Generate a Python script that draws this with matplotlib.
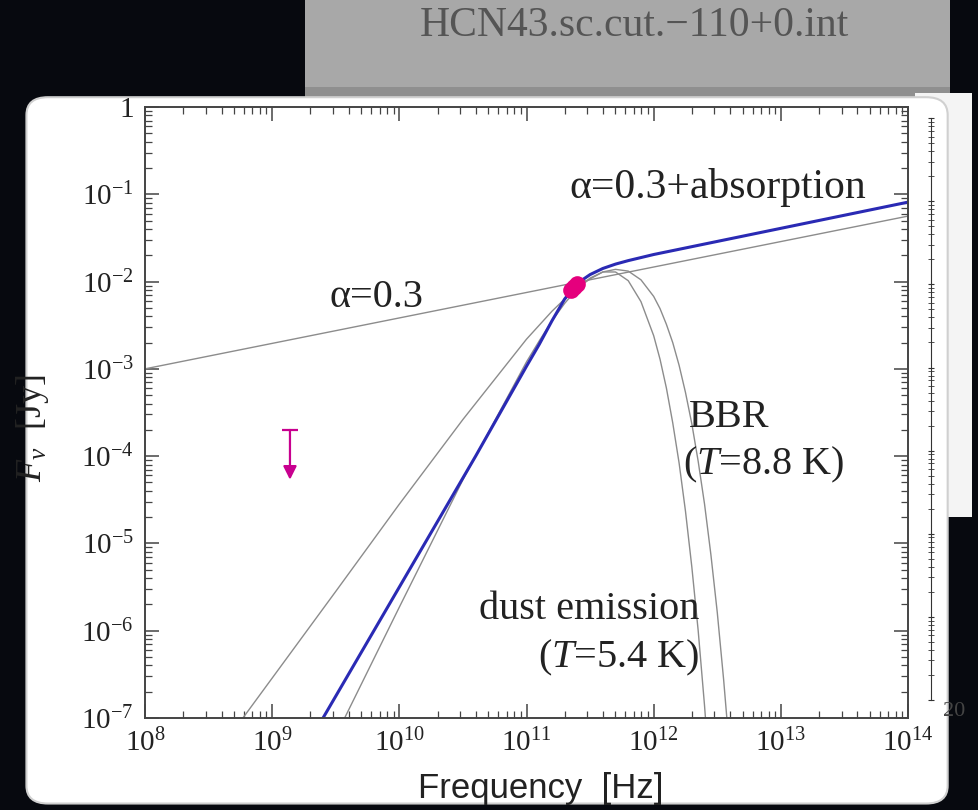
import numpy as np
import matplotlib
matplotlib.use('Agg')
import matplotlib.pyplot as plt
from matplotlib.patches import FancyBboxPatch, Rectangle
from matplotlib.ticker import LogLocator, FuncFormatter, NullFormatter

plt.rcParams['font.family'] = 'Liberation Serif'
plt.rcParams['mathtext.fontset'] = 'custom'
plt.rcParams['mathtext.rm'] = 'Liberation Serif'
plt.rcParams['mathtext.it'] = 'Liberation Serif:italic'

# all values, log10(nu [Hz]) and log10(F [Jy])
pl_lognu = [8.0, 14.0]
pl_logf = [-3.00, -1.25]

abs_lognu = [9.40, 9.8, 10.2, 10.6, 11.0, 11.1, 11.2, 11.3, 11.4, 11.5, 11.6,
             11.7, 11.8, 12.0, 12.5, 13.0, 13.5, 14.0]
abs_logf = [-7.00, -6.00, -5.00, -4.00, -2.97, -2.72, -2.45, -2.20, -2.02, -1.92,
            -1.85, -1.80, -1.76, -1.69, -1.54, -1.39, -1.24, -1.09]

bbr_lognu = [8.77, 9.5, 10.0, 10.5, 11.0, 11.2, 11.3, 11.4, 11.5, 11.6, 11.7, 11.8,
             11.9, 12.0, 12.05, 12.1, 12.15, 12.2, 12.25, 12.3, 12.35, 12.4, 12.45,
             12.5, 12.55, 12.6]
bbr_logf = [-7.00, -5.55, -4.55, -3.58, -2.66, -2.34, -2.20, -2.07, -1.97, -1.89,
            -1.86, -1.88, -1.98, -2.17, -2.31, -2.49, -2.70, -2.96, -3.27, -3.63,
            -4.06, -4.55, -5.13, -5.79, -6.56, -7.43]

dust_lognu = [9.57, 10.0, 10.5, 11.0, 11.1, 11.2, 11.3, 11.4, 11.5, 11.6, 11.7,
              11.8, 11.9, 12.0, 12.05, 12.1, 12.15, 12.2, 12.25, 12.3, 12.35, 12.4,
              12.45]
dust_logf = [-7.00, -5.73, -4.27, -2.92, -2.68, -2.45, -2.25, -2.08, -1.96, -1.89,
             -1.89, -1.99, -2.23, -2.62, -2.89, -3.22, -3.62, -4.08, -4.63, -5.27,
             -6.00, -6.86, -7.84]

obs_lognu = [11.35, 11.375, 11.40]
obs_logf = [-2.10, -2.065, -2.03]

ul_lognu = 9.14
ul_top = -3.70
ul_tip = -4.27

fig = plt.figure(figsize=(9.79, 8.10), dpi=100)
fig.patch.set_facecolor('#07090f')

# slide pieces behind the chart
fig.patches.append(Rectangle((0.312, 0.883), 0.658, 0.12, transform=fig.transFigure,
                             fc='#a8a8a8', ec='none', zorder=0))
fig.patches.append(Rectangle((0.312, 0.872), 0.658, 0.02, transform=fig.transFigure,
                             fc='#8f8f8f', ec='none', zorder=0))
fig.text(0.648, 0.968, 'HCN43.sc.cut.\u2212110+0.int', color='#555555', fontsize=30,
         ha='center', va='center')
fig.patches.append(Rectangle((0.935, 0.362), 0.058, 0.523, transform=fig.transFigure,
                             fc='#f4f4f4', ec='none', zorder=0))
fig.patches.append(FancyBboxPatch((0.027, 0.008), 0.941, 0.872,
                                  boxstyle='round,pad=0,rounding_size=0.022',
                                  transform=fig.transFigure, fc='white',
                                  ec='#d0d0d0', lw=1.5, zorder=1))

side = fig.add_axes([0.951, 0.136, 0.0005, 0.718])
side.set_zorder(3)
side.set_yscale('log')
side.set_ylim(1e-7, 1)
side.set_xticks([])
for s in ['top', 'right', 'bottom']:
    side.spines[s].set_visible(False)
side.spines['left'].set_color('#333333')
side.yaxis.set_minor_locator(LogLocator(base=10, subs=np.arange(2, 10), numticks=100))
side.yaxis.set_major_formatter(NullFormatter())
side.yaxis.set_minor_formatter(NullFormatter())
side.tick_params(which='both', direction='inout', length=5, color='#333333')
side.patch.set_alpha(0)
fig.text(0.963, 0.121, '20', fontsize=16, color='#444444', ha='left', va='center',
         zorder=3)

ax = fig.add_axes([0.1481, 0.1136, 0.7794, 0.7543])
ax.set_zorder(3)
ax.set_xscale('log')
ax.set_yscale('log')

grey = '#8c8c8c'
ax.plot(10**np.array(pl_lognu), 10**np.array(pl_logf), color=grey, lw=1.0)
ax.plot(10**np.array(bbr_lognu), 10**np.array(bbr_logf), color=grey, lw=1.0)
ax.plot(10**np.array(dust_lognu), 10**np.array(dust_logf), color=grey, lw=1.0)
ax.plot(10**np.array(abs_lognu), 10**np.array(abs_logf), color='#2a2ab4', lw=2.2)
ax.plot(10**np.array(obs_lognu), 10**np.array(obs_logf), 'o', color='#e5007d',
        ms=12, mec='none')

ax.annotate('', xy=(10**ul_lognu, 10**ul_tip), xytext=(10**ul_lognu, 10**ul_top),
            arrowprops=dict(arrowstyle='-|>', color='#c8008f', lw=1.6,
                            mutation_scale=20, shrinkA=0, shrinkB=0))
ax.plot([10**ul_lognu], [10**ul_top], '_', color='#c8008f', ms=12, mew=1.6)

ax.text(10**11.34, 10**-0.92, '\u03b1=0.3+absorption', fontsize=30, ha='left',
        va='center', color='#222222')
ax.text(10**9.45, 10**-2.18, '\u03b1=0.3', fontsize=29, ha='left', va='center',
        color='#222222')
ax.text(10**12.28, 10**-3.56, 'BBR', fontsize=29, ha='left', va='center',
        color='#222222')
ax.text(10**12.23, 10**-4.10, '($T$=8.8 K)', fontsize=29, ha='left', va='center',
        color='#222222')
ax.text(10**12.36, 10**-5.76, 'dust emission', fontsize=29, ha='right',
        va='center', color='#222222')
ax.text(10**12.36, 10**-6.31, '($T$=5.4 K)', fontsize=29, ha='right', va='center',
        color='#222222')

ax.set_xlim(1e8, 1e14)
ax.set_ylim(1e-7, 1)

def ylab(v, pos):
    e = int(round(np.log10(v)))
    if e == 0:
        return '1'
    return r'$\mathdefault{10^{%d}}$' % e

ax.xaxis.set_major_locator(LogLocator(base=10, numticks=20))
ax.yaxis.set_major_locator(LogLocator(base=10, numticks=20))
ax.xaxis.set_minor_locator(LogLocator(base=10, subs=np.arange(2, 10), numticks=100))
ax.yaxis.set_minor_locator(LogLocator(base=10, subs=np.arange(2, 10), numticks=100))
ax.yaxis.set_major_formatter(FuncFormatter(ylab))
ax.xaxis.set_minor_formatter(NullFormatter())
ax.yaxis.set_minor_formatter(NullFormatter())
ax.tick_params(which='both', direction='in', top=True, right=True, color='#444444',
               labelsize=21, labelcolor='#222222')
ax.tick_params(which='major', length=10, width=1.1, pad=8)
ax.tick_params(which='minor', length=5, width=0.9)
for s in ax.spines.values():
    s.set_color('#444444')
    s.set_linewidth(1.4)

fig.text(0.033, 0.472, r'$F_\nu$  [Jy]', rotation=90, fontsize=26, ha='center',
         va='center', color='#222222', zorder=3)
fig.text(0.552, 0.026, 'Frequency  [Hz]', family='Liberation Sans', fontsize=25,
         ha='center', va='center', color='#222222', zorder=3)

fig.savefig('out.png', dpi=100, facecolor=fig.get_facecolor())
